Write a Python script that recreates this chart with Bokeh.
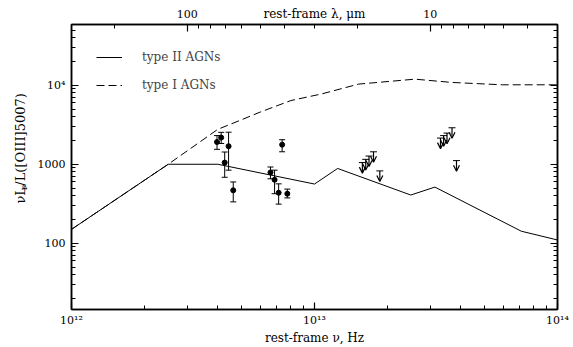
import math
from bokeh.plotting import figure
from bokeh.layouts import row
from bokeh.models import (Range1d, LogAxis, FixedTicker, CustomJSTickFormatter, Whisker,
                          TeeHead, OpenHead, Arrow, ColumnDataSource, Legend, LegendItem)
from bokeh.core.properties import value
from bokeh.embed import file_html
from bokeh.resources import INLINE

# ---- data ----
# type II AGN template
t2_nu = [1.0e12, 2.5e12, 4.0e12, 1.0e13, 1.245e13, 2.49e13, 3.13e13, 7.1e13, 1.0e14]
t2_val = [150, 1000, 1000, 562, 885, 408, 514, 142, 110]
# type I AGN template
t1_nu = [1.0e12, 2.5e12, 4.0e12, 5.0e12, 6.0e12, 8.0e12, 1.07e13, 1.52e13, 2.59e13, 3.68e13, 5.93e13, 1.0e14]
t1_val = [150, 1000, 2770, 3650, 4600, 6410, 7770, 10350, 11950, 10860, 10140, 10140]
# detections with error bars
det_nu = [3.97e12, 4.13e12, 4.27e12, 4.43e12, 4.63e12, 6.59e12, 6.85e12, 7.12e12, 7.36e12, 7.73e12]
det_val = [1914, 2178, 1050, 1693, 468, 788, 637, 436, 1771, 424]
det_hi = [2307, 2535, 1429, 2546, 597, 923, 842, 565, 2045, 485]
det_lo = [1545, 1833, 684, 842, 334, 655, 424, 313, 1439, 375]
# upper limits
lim_nu = [1.574e13, 1.625e13, 1.676e13, 1.749e13, 1.857e13, 3.30e13, 3.40e13, 3.51e13, 3.68e13, 3.84e13]
lim_val = [1050, 1154, 1271, 1438, 824, 2146, 2306, 2479, 2897, 1112]
# ticks
x_major = [1e12, 1e13, 1e14]
y_major = [100, 1000, 1e4]
lam_major = [100, 10]
lam_minor = [200, 90, 80, 70, 60, 50, 40, 30, 20, 9, 8, 7, 6, 5, 4, 3, 2]
C_UM = 2.998e14  # speed of light, micron Hz
# y-axis label pieces: nu L_nu / L([OIII]5007)
ylab_main = "\u03bdL"
ylab_sub = "\u03bd"
ylab_rest = "/L([OIII]5007)"

X0, X1 = 1e12, 1e14
Y0, Y1 = 14.5, 58800

FONT = "DejaVu Serif"
W, H = 573, 347
LW = 30  # width of the strip holding the y label
BL, BR, BT, BB = 71 - LW, 16, 24, 32

p = figure(width=W - LW, height=H, x_axis_type="log", y_axis_type="log",
           x_range=Range1d(X0, X1), y_range=Range1d(Y0, Y1),
           output_backend="svg", toolbar_location=None,
           min_border_left=BL, min_border_right=BR, min_border_top=BT, min_border_bottom=BB)
p.grid.visible = False
p.outline_line_color = "black"
p.outline_line_width = 1.5
p.background_fill_color = "white"

def minors(majors):
    out = []
    for m in majors:
        for k in range(2, 10):
            out.append(m * k)
    return out

x_ticker = FixedTicker(ticks=x_major, minor_ticks=minors([1e11, 1e12, 1e13]))
y_ticker = FixedTicker(ticks=y_major, minor_ticks=minors([10, 100, 1000, 1e4]))

sup_code = """
const sup = {"0":"\u2070","1":"\u00b9","2":"\u00b2","3":"\u00b3","4":"\u2074","5":"\u2075","6":"\u2076","7":"\u2077","8":"\u2078","9":"\u2079"};
"""
xfmt = CustomJSTickFormatter(code=sup_code + """
const e = Math.round(Math.log10(tick));
return "10" + String(e).split("").map(c => sup[c]).join("");
""")
yfmt = CustomJSTickFormatter(code=sup_code + """
if (tick >= 9999) {
  const e = Math.round(Math.log10(tick));
  return "10" + String(e).split("").map(c => sup[c]).join("");
}
return tick.toFixed(0);
""")
blank = CustomJSTickFormatter(code="return '';")
lamfmt = CustomJSTickFormatter(code="return (%g / tick).toFixed(0);" % C_UM)

def style(ax):
    ax.major_tick_in = 7
    ax.major_tick_out = 0
    ax.minor_tick_in = 4
    ax.minor_tick_out = 0
    ax.axis_line_width = 1.5
    ax.major_tick_line_width = 1.2
    ax.minor_tick_line_width = 1
    ax.major_label_text_font = FONT
    ax.major_label_text_font_size = "11px"
    ax.major_label_text_color = "black"
    ax.axis_label_text_font = FONT
    ax.axis_label_text_font_size = "12px"
    ax.axis_label_text_font_style = "normal"
    ax.axis_label_text_color = "black"

xb = p.xaxis[0]
xb.ticker = x_ticker
xb.formatter = xfmt
xb.axis_label = "rest-frame \u03bd, Hz"
style(xb)
xb.major_label_standoff = 4
xb.axis_label_standoff = 1

yl = p.yaxis[0]
yl.ticker = y_ticker
yl.formatter = yfmt
style(yl)
yl.major_label_standoff = 6

top = LogAxis(ticker=FixedTicker(ticks=[C_UM / l for l in lam_major],
                                 minor_ticks=[C_UM / l for l in lam_minor]),
              formatter=lamfmt, axis_label="rest-frame \u03bb, \u03bcm")
style(top)
top.major_label_standoff = 7
top.axis_label_standoff = -14
p.add_layout(top, "above")

right = LogAxis(ticker=y_ticker, formatter=blank)
style(right)
right.major_label_standoff = 0
p.add_layout(right, "right")

# curves
r2 = p.line(t2_nu, t2_val, line_color="black", line_width=1)
r1 = p.line(t1_nu, t1_val, line_color="black", line_width=1, line_dash="8 4")

# detections
dsrc = ColumnDataSource(dict(x=det_nu, y=det_val, hi=det_hi, lo=det_lo))
p.add_layout(Whisker(source=dsrc, base="x", upper="hi", lower="lo", dimension="height",
                     line_color="black", line_width=1,
                     upper_head=TeeHead(size=6, line_width=1, line_color="black"),
                     lower_head=TeeHead(size=6, line_width=1, line_color="black")))
p.scatter("x", "y", source=dsrc, size=5, color="black")

# upper limits
lsrc = ColumnDataSource(dict(x=lim_nu, y=lim_val, y_end=[v / 1.36 for v in lim_val]))
p.add_layout(Arrow(source=lsrc, x_start="x", y_start="y", x_end="x", y_end="y_end",
                   line_color="black", line_width=1.2,
                   start=TeeHead(size=7, line_width=1, line_color="black"),
                   end=OpenHead(size=6, line_width=1.2, line_color="black")))

# legend
legend = Legend(items=[LegendItem(label="type II AGNs", renderers=[r2]),
                       LegendItem(label="type I AGNs", renderers=[r1])],
                location=(25, 214), padding=0, margin=0, spacing=8,
                glyph_width=26, glyph_height=20, label_height=20, label_standoff=20,
                border_line_color=None, background_fill_alpha=0,
                label_text_font=FONT, label_text_font_size="12px")
p.add_layout(legend)

# narrow strip on the left carrying the rotated y-axis label (pixel-mapped ranges)
q = figure(width=LW, height=H, x_range=Range1d(0, LW), y_range=Range1d(0, H),
           output_backend="svg", toolbar_location=None,
           min_border=0, min_border_left=0, min_border_right=0,
           min_border_top=0, min_border_bottom=0)
q.axis.visible = False
q.grid.visible = False
q.outline_line_color = None
ang = math.pi / 2
q.text(x=[20], y=[H - 218], text=[ylab_main], angle=ang, text_font=value(FONT),
       text_font_size="13px", text_align="left", text_baseline="middle", text_color="black")
q.text(x=[23.5], y=[H - 201.8], text=[ylab_sub], angle=ang, text_font=value(FONT),
       text_font_size="9px", text_align="left", text_baseline="middle", text_color="black")
q.text(x=[20], y=[H - 196.2], text=[ylab_rest], angle=ang, text_font=value(FONT),
       text_font_size="13px", text_align="left", text_baseline="middle", text_color="black")

layout = row(q, p, spacing=0)
open("out.html", "w").write(file_html(layout, INLINE))
